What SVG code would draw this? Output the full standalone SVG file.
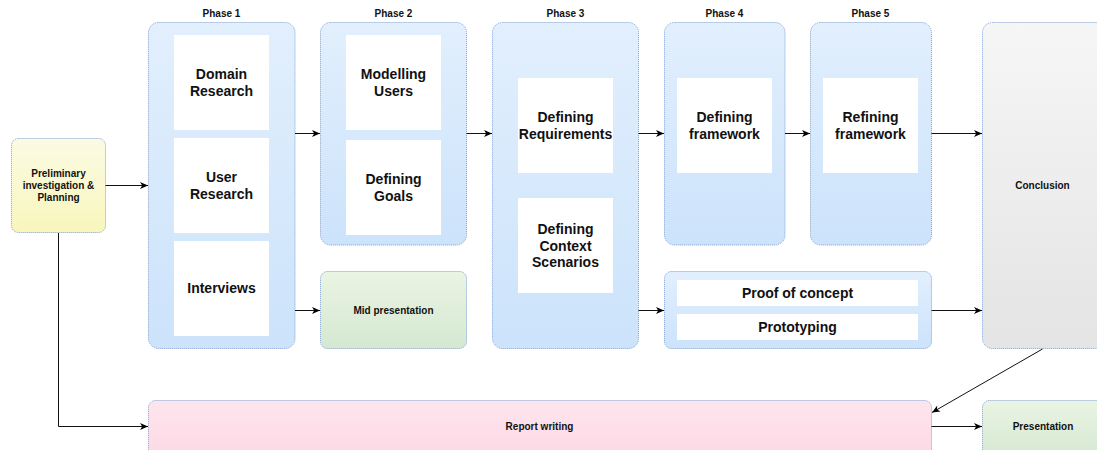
<svg xmlns="http://www.w3.org/2000/svg" width="1097" height="450" viewBox="0 0 1097 450">
  <defs>
    <linearGradient id="gBlue" x1="0" y1="0" x2="0" y2="1">
      <stop offset="0" stop-color="#e2effd"/>
      <stop offset="1" stop-color="#cce3fb"/>
    </linearGradient>
    <linearGradient id="gYellow" x1="0" y1="0" x2="0" y2="1">
      <stop offset="0" stop-color="#fbfbe4"/>
      <stop offset="1" stop-color="#f8f6bc"/>
    </linearGradient>
    <linearGradient id="gGreen" x1="0" y1="0" x2="0" y2="1">
      <stop offset="0" stop-color="#eaf4e2"/>
      <stop offset="1" stop-color="#d4e8d2"/>
    </linearGradient>
    <linearGradient id="gPink" x1="0" y1="0" x2="0" y2="1">
      <stop offset="0" stop-color="#fde5ee"/>
      <stop offset="1" stop-color="#fdd8e4"/>
    </linearGradient>
    <linearGradient id="gGrey" x1="0" y1="0" x2="0" y2="1">
      <stop offset="0" stop-color="#f6f6f6"/>
      <stop offset="1" stop-color="#e4e4e4"/>
    </linearGradient>
    <marker id="arrow" markerUnits="userSpaceOnUse" viewBox="0 0 8 8" refX="8" refY="4" markerWidth="8" markerHeight="8" orient="auto">
      <path d="M0,0.5 L8,4 L0,7.5 L2.2,4 z" fill="#000"/>
    </marker>
  </defs>
  <style>
    .box { stroke: #7f9fd0; stroke-width: 1; stroke-dasharray: 1 1; }
    .blue { fill: url(#gBlue); }
    .yellow { fill: url(#gYellow); }
    .green { fill: url(#gGreen); }
    .pink { fill: url(#gPink); }
    .grey { fill: url(#gGrey); }
    .card { fill: #ffffff; stroke: none; }
    text { font-family: "Liberation Sans", Arial, Helvetica, sans-serif; font-weight: bold; fill: #111; text-anchor: middle; }
    .big { font-size: 14px; }
    .small { font-size: 10px; }
    .edge { fill: none; stroke: #111; stroke-width: 1; marker-end: url(#arrow); }
  </style>

  <rect width="1097" height="450" fill="#ffffff"/>

  <!-- Preliminary investigation -->
  <g id="prelim">
    <rect class="box yellow" x="11.5" y="138.5" width="94" height="94" rx="7"/>
    <text class="small" x="58.5" y="177">Preliminary</text>
    <text class="small" x="58.5" y="189">investigation &amp;</text>
    <text class="small" x="58.5" y="201">Planning</text>
  </g>

  <!-- Phase 1 -->
  <g id="phase1">
    <text class="small" x="221.5" y="17">Phase 1</text>
    <rect class="box blue" x="148.5" y="22.5" width="146.5" height="326" rx="10"/>
    <rect class="card" x="174" y="35" width="95" height="95"/>
    <text class="big" x="221.5" y="79">Domain</text>
    <text class="big" x="221.5" y="95.7">Research</text>
    <rect class="card" x="174" y="138" width="95" height="95"/>
    <text class="big" x="221.5" y="182">User</text>
    <text class="big" x="221.5" y="198.7">Research</text>
    <rect class="card" x="174" y="241" width="95" height="95"/>
    <text class="big" x="221.5" y="293.4">Interviews</text>
  </g>

  <!-- Phase 2 -->
  <g id="phase2">
    <text class="small" x="393.5" y="17">Phase 2</text>
    <rect class="box blue" x="320.5" y="22.5" width="146" height="222.5" rx="10"/>
    <rect class="card" x="346" y="35" width="95" height="95"/>
    <text class="big" x="393.5" y="79">Modelling</text>
    <text class="big" x="393.5" y="95.7">Users</text>
    <rect class="card" x="346" y="140" width="95" height="95"/>
    <text class="big" x="393.5" y="184">Defining</text>
    <text class="big" x="393.5" y="200.7">Goals</text>
  </g>

  <!-- Mid presentation -->
  <g id="midPresentation">
    <rect class="box green" x="320.5" y="271.5" width="146" height="77" rx="7"/>
    <text class="small" x="393.5" y="313.6">Mid presentation</text>
  </g>

  <!-- Phase 3 -->
  <g id="phase3">
    <text class="small" x="565.5" y="17">Phase 3</text>
    <rect class="box blue" x="492.5" y="22.5" width="146" height="326" rx="10"/>
    <rect class="card" x="518" y="78" width="95" height="95"/>
    <text class="big" x="565.5" y="122">Defining</text>
    <text class="big" x="565.5" y="138.7">Requirements</text>
    <rect class="card" x="518" y="198" width="95" height="95"/>
    <text class="big" x="565.5" y="233.8">Defining</text>
    <text class="big" x="565.5" y="250.5">Context</text>
    <text class="big" x="565.5" y="267.2">Scenarios</text>
  </g>

  <!-- Phase 4 -->
  <g id="phase4">
    <text class="small" x="724.5" y="17">Phase 4</text>
    <rect class="box blue" x="664.5" y="22.5" width="120.5" height="222.5" rx="10"/>
    <rect class="card" x="677" y="78" width="95" height="95"/>
    <text class="big" x="724.5" y="122">Defining</text>
    <text class="big" x="724.5" y="138.7">framework</text>
  </g>

  <!-- Phase 5 -->
  <g id="phase5">
    <text class="small" x="870.5" y="17">Phase 5</text>
    <rect class="box blue" x="810.5" y="22.5" width="121" height="222.5" rx="10"/>
    <rect class="card" x="823" y="78" width="95" height="95"/>
    <text class="big" x="870.5" y="122">Refining</text>
    <text class="big" x="870.5" y="138.7">framework</text>
  </g>

  <!-- Proof of concept / Prototyping -->
  <g id="prototyping">
    <rect class="box blue" x="664.5" y="271.5" width="267" height="77" rx="7"/>
    <rect class="card" x="677" y="280" width="241" height="26"/>
    <text class="big" x="797.5" y="298">Proof of concept</text>
    <rect class="card" x="677" y="314" width="241" height="26"/>
    <text class="big" x="797.5" y="332">Prototyping</text>
  </g>

  <!-- Conclusion -->
  <g id="conclusion">
    <rect class="box grey" x="982.5" y="22.5" width="122" height="326" rx="10"/>
    <text class="small" x="1042.5" y="189">Conclusion</text>
  </g>

  <!-- Report writing -->
  <g id="reportWriting">
    <rect class="box pink" x="148.5" y="400.5" width="783" height="60" rx="7"/>
    <text class="small" x="539.5" y="430">Report writing</text>
  </g>

  <!-- Presentation -->
  <g id="presentation">
    <rect class="box green" x="982.5" y="400.5" width="122" height="60" rx="7"/>
    <text class="small" x="1043" y="430">Presentation</text>
  </g>

  <!-- Connectors -->
  <g id="connectors">
    <path class="edge" d="M105.5,185.5 H148"/>
    <path class="edge" d="M58.5,233 V426.5 H148"/>
    <path class="edge" d="M295,133.5 H320"/>
    <path class="edge" d="M295,310.5 H320"/>
    <path class="edge" d="M466.5,133.5 H492"/>
    <path class="edge" d="M638.5,133.5 H664"/>
    <path class="edge" d="M638.5,310.5 H664"/>
    <path class="edge" d="M785,133.5 H810"/>
    <path class="edge" d="M931.5,133.5 H982"/>
    <path class="edge" d="M931.5,310.5 H982"/>
    <path class="edge" d="M1042.5,349 L932,412.5"/>
    <path class="edge" d="M931.5,426.5 H982"/>
  </g>
</svg>
